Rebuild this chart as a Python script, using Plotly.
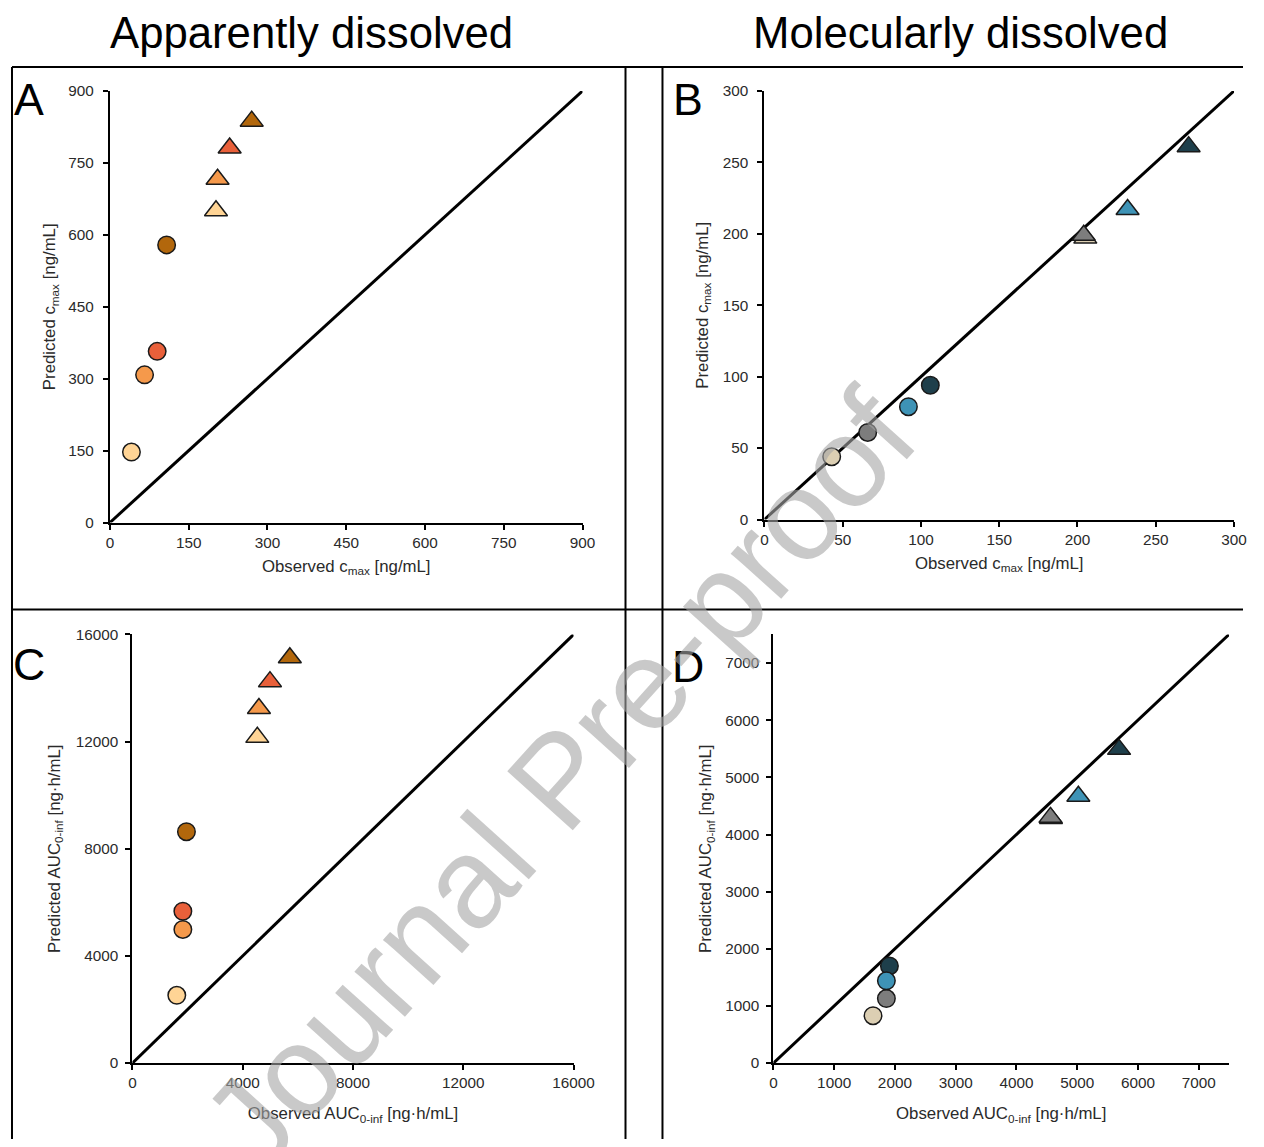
import plotly.graph_objects as go

W, H = 1264, 1147

# ---------------- data ----------------
# Panel A: apparently dissolved, c_max (observed vs predicted), ng/mL
a_circ_obs = [41, 66, 90, 108]
a_circ_pred = [147, 308, 357, 579]
a_tri_obs = [202, 205, 228, 270]
a_tri_pred = [650, 716, 781, 837]

# Panel B: molecularly dissolved, c_max
b_circ_obs = [43, 66, 92, 106]
b_circ_pred = [44, 61, 79, 94]
b_tri_obs = [205, 204, 232, 271]
b_tri_pred = [197, 199, 217, 261]

# Panel C: apparently dissolved, AUC0-inf (ng*h/mL)
c_circ_obs = [1610, 1830, 1830, 1960]
c_circ_pred = [2530, 4990, 5670, 8640]
c_tri_obs = [4530, 4590, 4990, 5710]
c_tri_pred = [12160, 13240, 14240, 15130]

# Panel D: molecularly dissolved, AUC0-inf
d_circ_obs = [1640, 1860, 1860, 1910]
d_circ_pred = [830, 1130, 1440, 1700]
d_tri_obs = [4570, 4560, 5020, 5690]
d_tri_pred = [4280, 4300, 4670, 5490]

orange_colors = ["#FFD495", "#F5994B", "#E9603A", "#B2670C"]
blue_colors = ["#DCCFB3", "#7D7D7D", "#3E93B6", "#1E3F4B"]

# axis limits / ticks
a_range, a_dtick = [0, 900], 150
b_range, b_dtick = [0, 300], 50
c_range, c_dtick = [0, 16000], 4000
d_range, d_dtick = [0, 7500], 1000

titles = ["Apparently dissolved", "Molecularly dissolved"]
letters = ["A", "B", "C", "D"]
x_titles = ["Observed c<sub>max</sub> [ng/mL]", "Observed c<sub>max</sub> [ng/mL]",
            "Observed AUC<sub>0-inf</sub> [ng·h/mL]", "Observed AUC<sub>0-inf</sub> [ng·h/mL]"]
y_titles = ["Predicted c<sub>max</sub> [ng/mL]", "Predicted c<sub>max</sub> [ng/mL]",
            "Predicted AUC<sub>0-inf</sub> [ng·h/mL]", "Predicted AUC<sub>0-inf</sub> [ng·h/mL]"]

# compensation for the slight scale/offset seen in the photographed page
AX, BX, AY, BY = 0.981, 3.0, 0.986, 9.0
S = (AX + AY) / 2


def px_x(v):
    return min(max((v - BX) / AX / W, 0.0), 1.0)


def px_y(v):
    return min(max(1 - (v - BY) / AY / H, 0.0), 1.0)


def fs(v):
    return round(v / S, 1)


# axis pixel frames in the reference (left, right, top, bottom)
frames = [
    (109, 582, 91, 523),
    (764, 1234, 91, 520),
    (131.5, 573, 635, 1064),
    (773, 1229, 635, 1064),
]
x_standoffs = [10, 10, 17, 17]
y_standoffs = [8, 10, 11, 9]
y_label_pads = [6, 6, 4, 4]

panels = [
    (a_circ_obs, a_circ_pred, a_tri_obs, a_tri_pred, orange_colors, a_range, a_dtick, [0, 1, 2, 3]),
    (b_circ_obs, b_circ_pred, b_tri_obs, b_tri_pred, blue_colors, b_range, b_dtick, [0, 1, 2, 3]),
    (c_circ_obs, c_circ_pred, c_tri_obs, c_tri_pred, orange_colors, c_range, c_dtick, [0, 1, 2, 3]),
    (d_circ_obs, d_circ_pred, d_tri_obs, d_tri_pred, blue_colors, d_range, d_dtick, [0, 1, 3, 2]),
]

fig = go.Figure()
layout = {}
FONT = "Arial, Liberation Sans, sans-serif"
TXT = "#2a2a2a"

for k, (co, cp, to, tp, cols, rng, dt, order) in enumerate(panels):
    n = "" if k == 0 else str(k + 1)
    xa, ya = "x" + n, "y" + n
    # identity line
    fig.add_trace(go.Scatter(x=rng, y=rng, mode="lines", xaxis=xa, yaxis=ya,
                             line=dict(color="black", width=3), showlegend=False,
                             hoverinfo="skip"))
    for i in order:
        fig.add_trace(go.Scatter(x=[to[i]], y=[tp[i]], mode="markers", xaxis=xa, yaxis=ya,
                                 marker=dict(symbol="triangle-up", size=20, color=cols[i],
                                             line=dict(color="#1a1a1a", width=1.5)),
                                 showlegend=False))
    for i in order:
        fig.add_trace(go.Scatter(x=[co[i]], y=[cp[i]], mode="markers", xaxis=xa, yaxis=ya,
                                 marker=dict(symbol="circle", size=17.5, color=cols[i],
                                             line=dict(color="#1a1a1a", width=1.5)),
                                 showlegend=False))
    l, r, t, b = frames[k]
    common = dict(range=rng, dtick=dt, tick0=0, showline=True, linecolor="black",
                  linewidth=2, ticks="outside", ticklen=5, tickwidth=1.5, tickcolor="black",
                  showgrid=False, zeroline=False, tickformat="d",
                  tickfont=dict(family=FONT, size=fs(15), color=TXT))
    layout["xaxis" + n] = dict(common, domain=[px_x(l), px_x(r)], anchor=ya,
                               title=dict(text=x_titles[k], standoff=x_standoffs[k],
                                          font=dict(family=FONT, size=fs(16.5), color=TXT)))
    layout["yaxis" + n] = dict(common, domain=[px_y(b), px_y(t)], anchor=xa,
                               ticklabelstandoff=y_label_pads[k],
                               title=dict(text=y_titles[k], standoff=y_standoffs[k],
                                          font=dict(family=FONT, size=fs(16.5), color=TXT)))

fig.update_layout(**layout)

# panel frame lines
frame_lines = [
    (11, 67, 1264, 67),     # top of A and B
    (11, 610, 1264, 610),   # middle divider
    (11, 67, 11, 1147),     # left edge of A / C
    (625, 67, 625, 1147),   # right edge of A / C
    (662, 67, 662, 1147),   # left edge of B / D
]
for (x0, y0, x1, y1) in frame_lines:
    fig.add_shape(type="line", xref="paper", yref="paper",
                  x0=px_x(x0), y0=px_y(y0), x1=px_x(x1), y1=px_y(y1),
                  line=dict(color="black", width=2))

annotations = []
for txt, cx in zip(titles, [311, 960]):
    annotations.append(dict(text=txt, x=px_x(cx), y=px_y(33), xref="paper", yref="paper",
                            showarrow=False, xanchor="center", yanchor="middle",
                            font=dict(family=FONT, size=fs(43), color="black")))
for txt, (cx, cy) in zip(letters, [(28, 100), (688, 100), (28, 665), (688, 667)]):
    annotations.append(dict(text=txt, x=px_x(cx), y=px_y(cy), xref="paper", yref="paper",
                            showarrow=False, xanchor="center", yanchor="middle",
                            font=dict(family=FONT, size=fs(44), color="black")))
# watermark
annotations.append(dict(text="Journal Pre-proof", x=px_x(558), y=px_y(780), xref="paper",
                        yref="paper", showarrow=False, xanchor="center", yanchor="middle",
                        textangle=-48,
                        font=dict(family=FONT, size=fs(126), color="rgba(165,165,165,0.6)")))

fig.update_layout(width=W, height=H, margin=dict(l=0, r=0, t=0, b=0),
                  paper_bgcolor="white", plot_bgcolor="white",
                  annotations=annotations, showlegend=False)

fig.write_html("out.html", config={"displayModeBar": False},
               post_script="document.body.style.margin='0px';"
                           "document.body.style.overflow='hidden';")
